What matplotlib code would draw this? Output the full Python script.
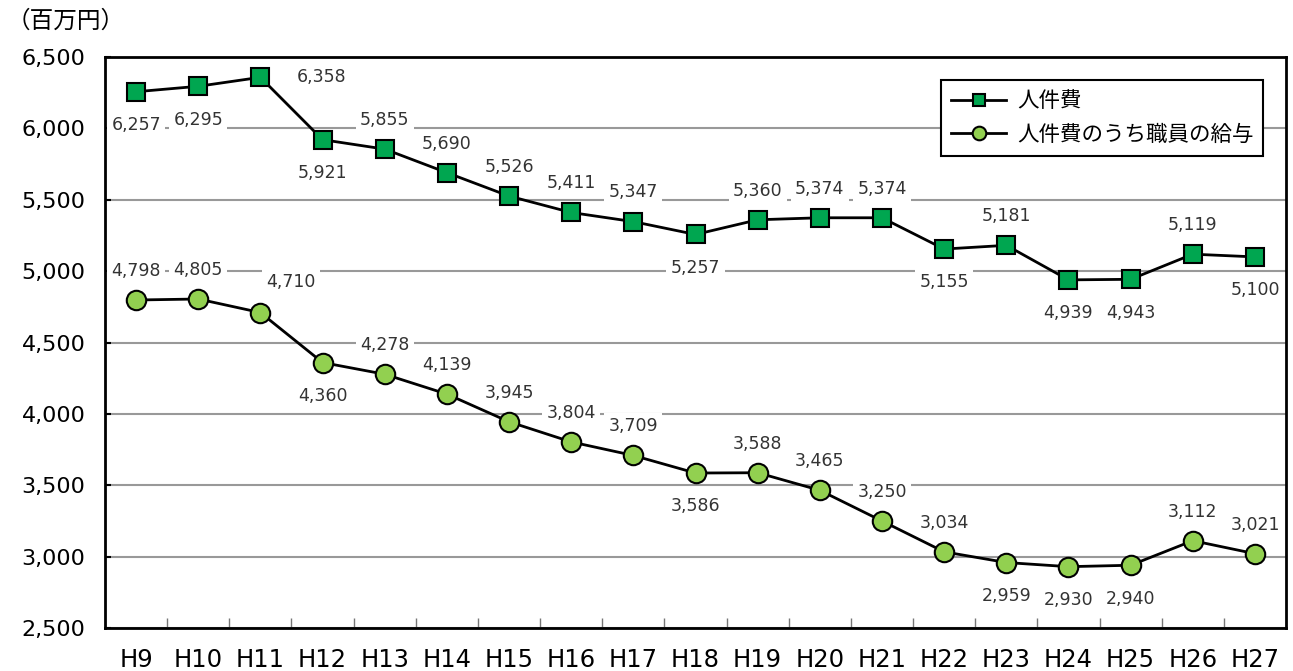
import numpy as np
import matplotlib
matplotlib.use('Agg')
import matplotlib.pyplot as plt

plt.rcParams['font.family'] = ['Noto Sans CJK JP', 'DejaVu Sans']
NUM_FONT = ['DejaVu Sans', 'Noto Sans CJK JP']

years = ['H9', 'H10', 'H11', 'H12', 'H13', 'H14', 'H15', 'H16', 'H17', 'H18',
         'H19', 'H20', 'H21', 'H22', 'H23', 'H24', 'H25', 'H26', 'H27']
personnel = [6257, 6295, 6358, 5921, 5855, 5690, 5526, 5411, 5347, 5257,
             5360, 5374, 5374, 5155, 5181, 4939, 4943, 5119, 5100]
salary = [4798, 4805, 4710, 4360, 4278, 4139, 3945, 3804, 3709, 3586,
          3588, 3465, 3250, 3034, 2959, 2930, 2940, 3112, 3021]
# label placement: 'u' above, 'd' below, 'r' right
pos_personnel = ['d', 'd', 'r', 'd', 'u', 'u', 'u', 'u', 'u', 'd',
                 'u', 'u', 'u', 'd', 'u', 'd', 'd', 'u', 'd']
pos_salary = ['u', 'u', 'ur', 'd', 'u', 'u', 'u', 'u', 'u', 'd',
              'u', 'u', 'u', 'u', 'd', 'd', 'd', 'u', 'u']

fig = plt.figure(figsize=(12.93, 6.71), dpi=100)
ax = fig.add_axes([0.0812, 0.064, 0.9134, 0.851])

x = np.arange(len(years))
ax.plot(x, personnel, color='black', lw=2, marker='s', ms=13,
        mfc='#00a650', mec='black', mew=1.5, label='人件費', zorder=4)
ax.plot(x, salary, color='black', lw=2, marker='o', ms=14,
        mfc='#92d050', mec='black', mew=1.5, label='人件費のうち職員の給与', zorder=4)

offsets = {'u': (0, 21), 'd': (0, -24), 'r': (44, 0), 'ur': (22, 22)}
for vals, poss in ((personnel, pos_personnel), (salary, pos_salary)):
    for i, (v, p) in enumerate(zip(vals, poss)):
        dx, dy = offsets[p]
        ax.annotate(f'{v:,}', (i, v), xytext=(dx, dy), textcoords='offset points',
                    ha='center', va='center', fontsize=12.5, color='#333333',
                    family=NUM_FONT,
                    bbox=dict(boxstyle='square,pad=0.25', fc='white', ec='none'),
                    zorder=3)

ax.set_xlim(-0.5, len(years) - 0.5)
ax.set_ylim(2500, 6500)
ax.set_yticks(np.arange(2500, 6501, 500))
ax.set_yticklabels([f'{t:,}' for t in range(2500, 6501, 500)], fontsize=16,
                   family=NUM_FONT)
ax.yaxis.grid(True, color='#999999', lw=1.5)
ax.set_axisbelow(True)
ax.tick_params(axis='y', length=4, width=1.5, direction='in', pad=14)

ax.set_xticks(x)
ax.set_xticklabels(years, fontsize=17.5, family=NUM_FONT)
ax.tick_params(axis='x', length=0, pad=14)
ax.set_xticks(np.arange(0.5, len(years) - 1, 1), minor=True)
ax.tick_params(axis='x', which='minor', length=7, width=1, direction='in', color='#777777')

for s in ax.spines.values():
    s.set_linewidth(2)

leg = ax.legend(loc='upper right', bbox_to_anchor=(0.99, 0.978), fontsize=15.5,
                frameon=True, fancybox=False, edgecolor='black', framealpha=1,
                handlelength=2.6, markerscale=0.7, borderpad=0.45,
                labelspacing=0.55, handletextpad=0.5)
leg.get_frame().set_linewidth(1.5)

fig.text(0.005, 0.968, '（百万円）', fontsize=17, va='center')

fig.savefig('out.png', dpi=100)
